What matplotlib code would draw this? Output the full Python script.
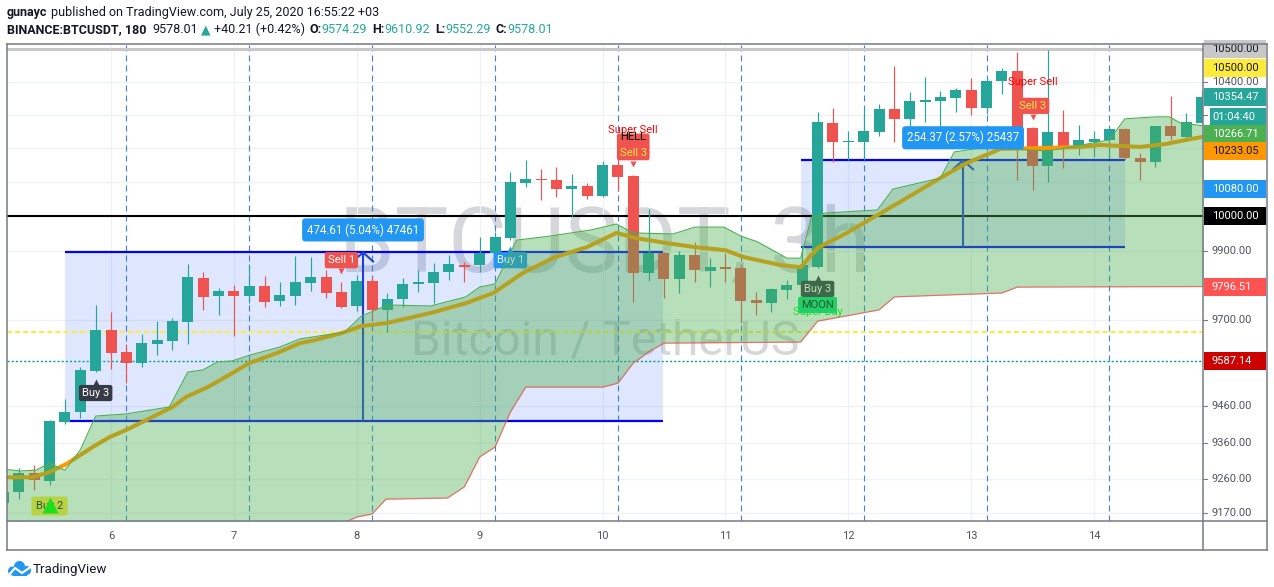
import numpy as np
import matplotlib
matplotlib.use("Agg")
import matplotlib.pyplot as plt
from matplotlib.patches import Rectangle, Ellipse
from matplotlib.lines import Line2D
import matplotlib.transforms as mtrans

plt.rcParams["lines.scale_dashes"] = False
FONT = ["Roboto", "DejaVu Sans"]
plt.rcParams["font.family"] = FONT

W, H, DPI = 1274, 587, 100

# ---------------- data ----------------
# 3-hour candles; index 0 = 6 July 00:00 (8 candles per day)
candle_idx = np.arange(-7, 72)
opens = [9196, 9226, 9277, 9256, 9417, 9444, 9558, 9673,
         9611, 9580, 9633, 9642, 9695, 9821, 9769, 9784,
         9769, 9798, 9755, 9769, 9807, 9824, 9781, 9741,
         9812, 9730, 9761, 9804, 9807, 9838, 9858, 9858,
         9893, 9936, 10097, 10109, 10106, 10079, 10088, 10059,
         10150, 10118, 9835, 9893, 9818, 9887, 9841, 9852,
         9850, 9758, 9749, 9787, 9801, 9852, 10276, 10219,
         10219, 10249, 10318, 10288, 10339, 10342, 10351, 10375,
         10321, 10402, 10433, 10261, 10147, 10249, 10201, 10219,
         10225, 10258, 10171, 10159, 10267, 10234, 10276]
highs = [9231, 9291, 9299, 9422, 9480, 9569, 9744, 9724,
         9633, 9662, 9698, 9707, 9861, 9838, 9792, 9801,
         9861, 9827, 9809, 9884, 9881, 9844, 9809, 9830,
         9827, 9778, 9821, 9844, 9864, 9887, 9867, 9939,
         9954, 10130, 10165, 10138, 10144, 10124, 10097, 10162,
         10180, 10121, 10021, 9896, 9899, 9925, 9878, 9893,
         9861, 9781, 9792, 9815, 9916, 10309, 10321, 10252,
         10315, 10333, 10448, 10369, 10415, 10372, 10381, 10411,
         10415, 10442, 10491, 10264, 10497, 10315, 10270, 10252,
         10260, 10261, 10186, 10268, 10357, 10306, 10375]
lows = [9191, 9207, 9231, 9245, 9411, 9428, 9555, 9563,
        9524, 9569, 9602, 9617, 9633, 9730, 9715, 9656,
        9749, 9738, 9741, 9744, 9784, 9764, 9735, 9727,
        9701, 9667, 9738, 9781, 9749, 9815, 9809, 9838,
        9881, 9930, 10085, 10047, 10056, 9997, 10050, 10056,
        10074, 9752, 9812, 9764, 9778, 9809, 9795, 9809,
        9693, 9715, 9724, 9761, 9792, 9850, 10159, 10165,
        10165, 10237, 10219, 10261, 10279, 10249, 10309, 10300,
        10303, 10363, 10106, 10076, 10100, 10141, 10180, 10174,
        10171, 10168, 10106, 10144, 10225, 10228, 10276]
closes = [9226, 9277, 9258, 9419, 9444, 9561, 9673, 9608,
          9580, 9636, 9645, 9698, 9824, 9767, 9784, 9769,
          9798, 9752, 9772, 9809, 9824, 9778, 9738, 9812,
          9730, 9761, 9804, 9809, 9838, 9861, 9852, 9893,
          9939, 10100, 10109, 10106, 10079, 10088, 10059, 10150,
          10115, 9835, 9893, 9818, 9887, 9844, 9852, 9847,
          9755, 9749, 9789, 9801, 9858, 10279, 10219, 10222,
          10252, 10318, 10288, 10342, 10345, 10354, 10375, 10321,
          10402, 10433, 10261, 10147, 10249, 10201, 10225, 10228,
          10258, 10171, 10159, 10267, 10237, 10279, 10354.47]

# moving average (orange line) : candle index, price
ma_idx = [-7, -5.1, -4.0, -2.9, -1.2, -0.1, 1.0, 2.3, 4.0, 4.9, 6.3, 7.9, 9.0, 10.8,
          12.3, 13.3, 15.0, 16.3, 18.0, 20.8, 23.1, 24.9, 26.8, 28.9, 31.0, 32.9,
          34.2, 36.1, 38.0, 40.0, 41.2, 43.6, 44.9, 46.0, 47.9, 49.9, 51.8, 54.0,
          55.7, 57.9, 59.8, 60.9, 63.1, 64.4, 67.0, 68.7, 70.0, 71.2]
ma_val = [9266, 9266, 9280, 9302, 9348, 9375, 9395, 9422, 9458, 9486, 9513, 9552, 9580, 9608,
          9636, 9645, 9664, 9684, 9693, 9721, 9749, 9778, 9835, 9881, 9910, 9951,
          9936, 9922, 9910, 9901, 9881, 9858, 9852, 9907, 9951, 10003, 10053, 10112,
          10156, 10198, 10200, 10201, 10204, 10210, 10204, 10213, 10225, 10235]

# upper band (green)
upper_idx = [-7, -5.9, -4.9, -4.0, -3.0, -2.0, -1.0, 1.0, 3.8, 5.0, 6.0, 6.9, 7.9, 9.0,
             11.0, 12.3, 15.2, 16.3, 18.0, 20.8, 23.1, 24.0, 25.0, 26.4, 28.6, 31.3,
             32.9, 34.0, 36.6, 38.0, 39.9, 41.0, 42.1, 44.0, 44.9, 45.6, 46.5, 49.9,
             50.9, 54.0, 54.9, 56.6, 58.3, 61.0, 63.0, 65.0, 66.0, 68.0, 68.9, 69.6, 71.2]
upper_val = [9288, 9283, 9285, 9304, 9285, 9340, 9433, 9439, 9458, 9555, 9561, 9583, 9586, 9602,
             9625, 9648, 9667, 9712, 9744, 9741, 9767, 9795, 9804, 9930, 9942, 9960,
             9977, 9951, 9948, 9968, 9968, 9942, 9925, 9878, 9878, 9997, 10009, 10018,
             10079, 10112, 10189, 10201, 10199, 10192, 10208, 10225, 10288, 10294, 10294, 10276, 10266.71]

# lower band (red)
lower_idx = [-7, 14.0, 15.4, 16.0, 17.0, 17.9, 21.9, 23.0, 23.4, 24.0, 25.0, 26.0, 27.0,
             32.0, 33.0, 34.0, 35.0, 36.0, 44.9, 46.0, 50.0, 51.0, 58.0, 59.0, 71.2]
lower_val = [9050, 9125, 9148, 9159, 9167, 9207, 9210, 9240, 9272, 9321, 9348, 9444, 9513,
             9513, 9524, 9580, 9611, 9636, 9639, 9698, 9730, 9767, 9778, 9795, 9796.51]

# horizontal levels
level_gray = 10500.0
level_black = 10000.0
level_yellow = 9667.0
level_teal = 9587.14

# measurement tool (days, prices)
meas_x0 = [5.626, 11.615]
meas_x1 = [10.492, 14.252]
meas_arrow_x = [8.051, 12.934]
meas_low = [9420.0, 9910.0]
meas_high = [9894.61, 10164.37]
meas_text = ["474.61 (5.04%) 47461", "254.37 (2.57%) 25437"]

day_ticks = [6, 7, 8, 9, 10, 11, 12, 13, 14]
price_ticks = [9170, 9260, 9360, 9460, 9700, 9900, 10000, 10100, 10200, 10300, 10400, 10500]

axis_label_text = ["10500.00", "10500.00", "10354.47", "01:04:40", "10266.71",
                   "10233.05", "10080.00", "10000.00", "9796.51", "9587.14"]
axis_label_price = [10500.0, 10500.0, 10354.47, 10354.47, 10266.71,
                    10233.05, 10080.0, 10000.0, 9796.51, 9587.14]

# ---------------- figure ----------------
fig = plt.figure(figsize=(W / DPI, H / DPI), dpi=DPI)
fig.patch.set_facecolor("white")
ax = fig.add_axes([7 / W, 1 - 521 / H, 1196 / W, 477 / H])
ax.set_yscale("log")
XL = (5.1536, 14.8867)
YL = (9148.4, 10515.3)
ax.set_xlim(*XL)
ax.set_ylim(*YL)
ax.set_axis_off()

def dx(k):
    return 6 + np.asarray(k, dtype=float) / 8.0

def off(dxp, dyp):
    return ax.transData + mtrans.Affine2D().translate(dxp, dyp)

def disp_y(p):
    return ax.transData.transform((XL[0], p))[1]

def disp_x(d):
    return ax.transData.transform((d, YL[0]))[0]

renderer = fig.canvas.get_renderer()

# watermark
def fit_width(t, target):
    w = t.get_window_extent(renderer).width
    t.set_fontsize(t.get_fontsize() * target / w)

wm1 = ax.text(605 / W, 1 - 271 / H, "BTCUSDT, 3h", transform=fig.transFigure,
              ha="center", va="baseline", fontsize=60, color="#787b86", alpha=0.3,
              zorder=0.5, family=FONT)
fit_width(wm1, 532)
wm2 = ax.text(605 / W, 1 - 355 / H, "Bitcoin / TetherUS", transform=fig.transFigure,
              ha="center", va="baseline", fontsize=32, color="#787b86", alpha=0.3,
              zorder=0.5, family=FONT)
fit_width(wm2, 389)

# grid
for p in price_ticks:
    ax.axhline(p, color="#eef1f6", lw=0.9, zorder=0.6)
for d in day_ticks:
    ax.axvline(d, color="#eef1f6", lw=0.9, zorder=0.6)

# blue dashed verticals (03:00 each day)
for d in range(5, 15):
    ax.axvline(d + 0.125, color="#3d7fe3", lw=0.8, ls=(0, (4.3, 2.9)), zorder=0.8)

# measurement boxes
for i in range(2):
    ax.add_patch(Rectangle((meas_x0[i], meas_low[i]), meas_x1[i] - meas_x0[i],
                           meas_high[i] - meas_low[i], facecolor="#2962ff",
                           alpha=0.15, lw=0, zorder=1))
    ax.hlines([meas_low[i], meas_high[i]], meas_x0[i], meas_x1[i], color="#0000ff",
              lw=1.6, zorder=1.8)
    ax.vlines(meas_arrow_x[i], meas_low[i], meas_high[i], color="#1e3fd6", lw=1.5, zorder=1.8)
    tx = disp_x(meas_arrow_x[i]); ty = disp_y(meas_high[i])
    ax.add_line(Line2D([tx - 10, tx, tx + 10], [ty - 9, ty, ty - 9],
                       transform=mtrans.IdentityTransform(), color="#1e3fd6", lw=1.5,
                       zorder=1.8))
    ax.annotate(meas_text[i], xy=(meas_arrow_x[i], meas_high[i]), xytext=(0, 22.5),
                textcoords="offset pixels", ha="center", va="center", color="white",
                fontsize=8.3, zorder=7,
                bbox=dict(boxstyle="round,pad=0.42,rounding_size=0.3", fc="#2196f3", ec="none"))

# horizontal levels
ax.axhline(level_gray, color="#c8c8c8", lw=2.2, zorder=1.5)
ax.axhline(level_black, color="black", lw=1.5, zorder=1.5)
ax.axhline(level_yellow, color="#ffeb3b", lw=1.5, ls=(0, (3.6, 2.2)), zorder=1.5)
ax.axhline(level_teal, color="#00a08c", lw=1.0, ls=(0, (1.5, 1.5)), zorder=1.5)

# candles
xs = dx(candle_idx)
o = np.array(opens, float); h = np.array(highs, float)
l = np.array(lows, float); c = np.array(closes, float)
up = c >= o
cols = np.where(up, "#26a69a", "#ef5350")
ax.vlines(xs, l, h, colors=cols, lw=0.85, zorder=2)
bottom = np.minimum(o, c)
height = np.maximum(np.abs(c - o), bottom * 0.00032)
ax.bar(xs, height, bottom=bottom, width=11 / 122.88, color=cols, lw=0, zorder=2.1)

# moving average (under the band fill)
ax.plot(dx(ma_idx), ma_val, color="#ff9800", lw=2.9, zorder=3, solid_capstyle="round")

# signal labels (under the band fill)
def label(k, price, dy, text, fc, tc, zo=4, pad=0.28):
    ax.annotate(text, xy=(dx(k), price), xytext=(0, dy), textcoords="offset pixels",
                ha="center", va="center", color=tc, fontsize=8, zorder=zo,
                bbox=dict(boxstyle="round,pad=%s,rounding_size=0.2" % pad, fc=fc, ec="none"))

def pointer(k, price, dy, mk, colr, zo=4):
    ax.plot([dx(k)], [price], marker=mk, ms=4.5, color=colr, mec="none",
            transform=off(0, dy), zorder=zo)

def idx(k):
    return int(k + 7)

# Buy 2
label(-4, lows[idx(-4)], -21, "Buy 2", "#ffeb3b", "#131722", pad=0.4)
ax.plot([dx(-4)], [lows[idx(-4)]], marker="^", ms=11.5, color="#00ff00", mec="none",
        transform=off(0, -20), zorder=4.2)
# Buy 3 (left)
label(-1, lows[idx(-1)], -21, "Buy 3", "#363a45", "white")
pointer(-1, lows[idx(-1)], -10, "^", "#363a45")
# Sell 1
label(15, highs[idx(15)], 22, "Sell 1", "#ef5350", "white")
pointer(15, highs[idx(15)], 11, "v", "#ef5350")
# Buy 1
label(26, lows[idx(26)], -20, "Buy 1", "#2196f3", "white")
pointer(26, lows[idx(26)], -9, "^", "#2196f3")
# Super Sell / HELL / Sell 3 on candle 34
ax.annotate("Super Sell", xy=(dx(34), highs[idx(34)]), xytext=(0, 45), textcoords="offset pixels",
            ha="center", va="center", color="#ff0000", fontsize=8, zorder=3.9)
ax.annotate("HELL\nSell 3", xy=(dx(34), highs[idx(34)]), xytext=(0, 28), textcoords="offset pixels",
            ha="center", va="center", color="none", fontsize=8, linespacing=1.15, zorder=4,
            bbox=dict(boxstyle="round,pad=0.25,rounding_size=0.2", fc="#ef5350", ec="none"))
ax.annotate("HELL", xy=(dx(34), highs[idx(34)]), xytext=(0, 38), textcoords="offset pixels",
            ha="center", va="center", color="black", fontsize=8, zorder=4.1)
ax.annotate("Sell 3", xy=(dx(34), highs[idx(34)]), xytext=(0, 22), textcoords="offset pixels",
            ha="center", va="center", color="#ffeb3b", fontsize=8, zorder=4.1)
pointer(34, highs[idx(34)], 11, "v", "#ef5350")
# Super Buy / MOON / Buy 3 on candle 46
ax.annotate("Super Buy", xy=(dx(46), lows[idx(46)]), xytext=(0, -44), textcoords="offset pixels",
            ha="center", va="center", color="#00ff00", fontsize=8, zorder=3.9)
label(46, lows[idx(46)], -37, "MOON", "#00e676", "#131722", zo=4)
label(46, lows[idx(46)], -21, "Buy 3", "#363a45", "white", zo=4.05)
pointer(46, lows[idx(46)], -10, "^", "#363a45")
# Super Sell / Sell 3 on candle 60
ax.annotate("Super Sell", xy=(dx(60), highs[idx(60)]), xytext=(0, 45), textcoords="offset pixels",
            ha="center", va="center", color="#ff0000", fontsize=8, zorder=3.9)
label(60, highs[idx(60)], 21, "Sell 3", "#ef5350", "#ffeb3b")
pointer(60, highs[idx(60)], 10, "v", "#ef5350")

# band fill (drawn over candles)
grid = np.linspace(-7, 71.2, 3000)
ui = np.interp(grid, upper_idx, upper_val)
li = np.interp(grid, lower_idx, lower_val)
ax.fill_between(dx(grid), li, ui, color="#4caf50", alpha=0.4, lw=0, zorder=5)
ax.plot(dx(upper_idx), upper_val, color="#4caf50", lw=0.8, zorder=5.5)
ax.plot(dx(lower_idx), lower_val, color="#ef5350", lw=0.85, alpha=0.8, zorder=5.5)

ax.set_xlim(*XL)
ax.set_ylim(*YL)

# ---------------- price scale ----------------
GRAY = "#787b86"
TXT = "#50535e"
label_style = [
    (0, "#c8c8c8", "#131722", 1204),
    (19, "#ffeb3b", "#131722", 1204),
    (0, "#26a69a", "white", 1204),
    (20, "#26a69a", "white", 1210),
    (8, "#4caf50", "white", 1204),
    (14, "#ff9800", "#131722", 1204),
    (0, "#2196f3", "white", 1204),
    (0, "#000000", "white", 1204),
    (0, "#ff5252", "white", 1204),
    (0, "#cc0000", "white", 1204),
]
label_y = [disp_y(p) - s[0] for p, s in zip(axis_label_price, label_style)]

for p in price_ticks:
    yy = disp_y(p)
    fig.add_artist(Line2D([1203 / W, 1207 / W], [yy / H, yy / H], transform=fig.transFigure,
                          color=GRAY, lw=0.8, zorder=2))
    if min(abs(yy - ly) for ly in label_y) < 12:
        continue  # hidden behind a price label
    fig.text(1212 / W, yy / H, "%.2f" % p, ha="left", va="center", fontsize=8, color=TXT,
             zorder=3)

for txt, yy, (shift, bg, fg, x0) in zip(axis_label_text, label_y, label_style):
    fig.add_artist(Rectangle((x0 / W, (yy - 9) / H), (1266 - x0) / W, 18 / H,
                             transform=fig.transFigure, fc=bg, ec="none", zorder=4))
    fig.text(1212 / W, yy / H, txt, ha="left", va="center", fontsize=8, color=fg, zorder=5)

# time scale labels
for d in day_ticks:
    fig.text(disp_x(d) / W, 1 - 536 / H, str(d), ha="center", va="center",
             fontsize=8, color=TXT)

# frame
def fline(x0, y0, x1, y1):
    fig.add_artist(Line2D([x0 / W, x1 / W], [1 - y0 / H, 1 - y1 / H],
                          transform=fig.transFigure, color=GRAY, lw=1.1, zorder=6))
fline(7, 44, 1267, 44)
fline(7, 550, 1267, 550)
fline(7, 44, 7, 550)
fline(1267, 44, 1267, 550)
fline(1203, 44, 1203, 550)
fline(7, 521, 1267, 521)

# ---------------- header ----------------
def place_line(pieces, x0, y, target):
    texts, gaps = [], []
    for s, colr, wt, gap in pieces:
        t = fig.text(0, 1 - y / H, s, color=colr, fontweight=wt, fontsize=10,
                     ha="left", va="center", family=FONT)
        texts.append(t); gaps.append(gap)
    tw = sum(t.get_window_extent(renderer).width for t in texts)
    scale = (target - sum(gaps)) / tw
    for t in texts:
        t.set_fontsize(10 * scale)
    x = x0
    for t, g in zip(texts, gaps):
        t.set_x(x / W)
        x += t.get_window_extent(renderer).width + g

DARK = "#131722"
TEAL = "#26a69a"
place_line([("gunayc", DARK, "bold", 4),
            ("published on TradingView.com, July 25, 2020 16:55:22 +03", DARK, "normal", 0)],
           7, 12.5, 372)
place_line([("BINANCE:BTCUSDT, 180", DARK, "bold", 6),
            ("9578.01", DARK, "normal", 3),
            ("▲", TEAL, "normal", 3),
            ("+40.21 (+0.42%)", DARK, "normal", 5),
            ("O:", DARK, "bold", 0), ("9574.29", TEAL, "normal", 5),
            ("H:", DARK, "bold", 0), ("9610.92", TEAL, "normal", 5),
            ("L:", DARK, "bold", 0), ("9552.29", TEAL, "normal", 5),
            ("C:", DARK, "bold", 0), ("9578.01", TEAL, "normal", 0)],
           7, 29.5, 547)

# ---------------- footer logo ----------------
LOGO = "#2196f3"
for cx, cy, r in [(12.5, 571, 4.5), (19.5, 566.5, 5.5), (26.5, 570.5, 4.5)]:
    fig.add_artist(Ellipse((cx / W, 1 - cy / H), 2 * r / W, 2 * r / H,
                           transform=fig.transFigure, fc=LOGO, ec="none"))
fig.add_artist(Rectangle((12.5 / W, 1 - 575.5 / H), 14 / W, 5 / H,
                         transform=fig.transFigure, fc=LOGO, ec="none"))
fig.add_artist(Line2D([9 / W, 15 / W, 22 / W, 32 / W],
                      [1 - 575 / H, 1 - 568 / H, 1 - 573 / H, 1 - 566 / H],
                      transform=fig.transFigure, color="white", lw=1.6))
fig.text(33 / W, 1 - 569 / H, "TradingView", ha="left", va="center", fontsize=9.6,
         color=DARK)

fig.savefig("out.png", dpi=DPI)
